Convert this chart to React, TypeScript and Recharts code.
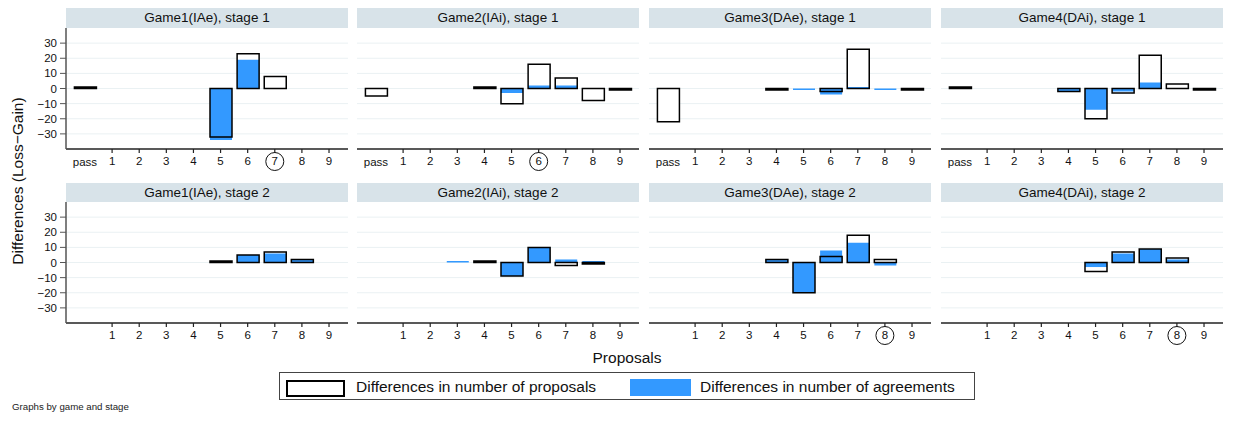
import React from 'react'
import { BarChart, Bar, XAxis, YAxis, CartesianGrid } from 'recharts'

// x positions: "pass" then proposals 1..9
const categories = ['pass', '1', '2', '3', '4', '5', '6', '7', '8', '9']
const positions = [0, 1, 2, 3, 4, 5, 6, 7, 8, 9]
const yTicks = [-30, -20, -10, 0, 10, 20, 30]

const games = ['Game1(IAe)', 'Game2(IAi)', 'Game3(DAe)', 'Game4(DAi)']
const stages = [1, 2]

// differences (loss - gain) in number of proposals
const proposalsStage1 = [
  [1, 0, 0, 0, 0, -32, 23, 8, 0, 0],
  [-5, 0, 0, 0, 1, -10, 16, 7, -8, -1],
  [-22, 0, 0, 0, -1, 0, -2, 26, 0, -1],
  [1, 0, 0, 0, -2, -20, -3, 22, 3, -1],
]
const proposalsStage2 = [
  [0, 0, 0, 0, 0, 1, 5, 7, 2, 0],
  [0, 0, 0, 0, 1, -9, 10, -2, -1, 0],
  [0, 0, 0, 0, 2, -20, 4, 18, 2, 0],
  [0, 0, 0, 0, 0, -6, 7, 9, 3, 0],
]

// differences (loss - gain) in number of agreements
const agreementsStage1 = [
  [0, 0, 0, 0, 0, -34, 19, 0, 0, 0],
  [0, 0, 0, 0, 0, -3, 2, 2, 0, 0],
  [0, 0, 0, 0, 0, -1, -4, 1, -1, 0],
  [0, 0, 0, 0, -2, -14, -2, 4, 0, 0],
]
const agreementsStage2 = [
  [0, 0, 0, 0, 0, 0, 5, 6, 2, 0],
  [0, 0, 0, 1, 0, -9, 10, 2, 1, 0],
  [0, 0, 0, 0, 2, -20, 8, 13, -2, 0],
  [0, 0, 0, 0, 0, -3, 6, 9, 2, 0],
]

// circled proposal label in each panel (-1 = none)
const circledStage1 = [7, 6, -1, -1]
const circledStage2 = [-1, -1, 8, 8]

const FONT = '"Liberation Sans", Arial, Helvetica, sans-serif'
const BLUE = '#3399ff'
const colLeft = [66, 357, 649, 941]
const plotW = 282
const plotH = 121
const axisH = 26
const rowTop = [28, 202]
const headerTop = [8, 183]
const headerH = [20, 19]
const yAxisW = 46

const fmtY = (v: number) => (v < 0 ? '\u2212' + Math.abs(v) : String(v))

const XTick = (props: any) => {
  const { x, y, payload, circle } = props
  const v = payload.value
  const axisY = y - 6
  return (
    <g>
      {v > 0 && <line x1={x} x2={x} y1={axisY} y2={axisY + 4} stroke="#222" strokeWidth={1.2} />}
      <text x={x} y={axisY + 16 + (v === 0 ? 1 : 0)} textAnchor="middle" fontSize={11.5} fill="#111" fontFamily={FONT}>
        {categories[v]}
      </text>
      {circle === v && <circle cx={x} cy={axisY + 12.5} r={9} fill="none" stroke="#111" strokeWidth={1} />}
    </g>
  )
}

function Panel({ g, s }: { g: number; s: number }) {
  const prop = s === 0 ? proposalsStage1[g] : proposalsStage2[g]
  const agr = s === 0 ? agreementsStage1[g] : agreementsStage2[g]
  const circle = s === 0 ? circledStage1[g] : circledStage2[g]
  const data = positions.map((p, i) => ({ pos: p, proposals: prop[i], agreements: agr[i] }))
  const ticks = s === 0 ? positions : positions.slice(1)
  const first = g === 0
  const left = first ? colLeft[g] - yAxisW : colLeft[g]
  const width = first ? plotW + yAxisW : plotW
  const xProps = {
    type: 'number' as const,
    dataKey: 'pos',
    domain: [-0.7, 9.7],
    allowDataOverflow: true,
  }
  return (
    <>
      <div
        style={{
          position: 'absolute',
          left: colLeft[g],
          top: headerTop[s],
          width: plotW,
          height: headerH[s],
          background: '#d8e3e9',
          fontFamily: FONT,
          fontSize: 13.5,
          color: '#111',
          textAlign: 'center',
          lineHeight: headerH[s] + 'px',
        }}
      >
        {games[g]}, stage {stages[s]}
      </div>
      <div style={{ position: 'absolute', left, top: rowTop[s] }}>
        <BarChart width={width} height={plotH + axisH} data={data} margin={{ top: 0, right: 0, bottom: 0, left: 0 }} barSize={22}>
          <CartesianGrid xAxisId="a" horizontalValues={yTicks} vertical={false} stroke="#eaf1f3" strokeWidth={1} />
          <XAxis
            {...xProps}
            xAxisId="a"
            height={axisH}
            ticks={ticks}
            interval={0}
            tickLine={false}
            tickSize={4}
            tickMargin={2}
            axisLine={{ stroke: '#222', strokeWidth: 1.3 }}
            tick={(p: any) => <XTick {...p} circle={circle} />}
          />
          <XAxis {...xProps} xAxisId="b" hide ticks={positions} />
          <XAxis {...xProps} xAxisId="c" hide ticks={positions} />
          <YAxis
            type="number"
            domain={[-40, 40]}
            ticks={yTicks}
            interval={0}
            hide={!first}
            width={yAxisW}
            tickSize={6}
            tickMargin={3}
            tickFormatter={fmtY}
            axisLine={{ stroke: '#555', strokeWidth: 1.5 }}
            tickLine={{ stroke: '#555', strokeWidth: 1 }}
            tick={{ fontSize: 11.5, fill: '#111', fontFamily: FONT }}
          />
          <Bar xAxisId="a" dataKey="proposals" fill="#fff" stroke="none" barSize={22} isAnimationActive={false} />
          <Bar xAxisId="b" dataKey="agreements" fill={BLUE} stroke="none" barSize={22} isAnimationActive={false} />
          <Bar xAxisId="c" dataKey="proposals" fill="none" stroke="#000" strokeWidth={1.5} barSize={22} isAnimationActive={false} />
        </BarChart>
      </div>
    </>
  )
}

export default function App() {
  return (
    <div style={{ position: 'absolute', left: 0, top: 0, width: 1233, height: 423, background: '#fff', fontFamily: FONT }}>
      {[0, 1].map((s) => [0, 1, 2, 3].map((g) => <Panel key={s + '-' + g} g={g} s={s} />))}
      <div
        style={{
          position: 'absolute',
          left: 18,
          top: 181,
          transform: 'translate(-50%, -50%) rotate(-90deg)',
          whiteSpace: 'nowrap',
          fontSize: 15.5,
          color: '#111',
        }}
      >
        Differences (Loss{'\u2212'}Gain)
      </div>
      <div style={{ position: 'absolute', left: 627, top: 358, transform: 'translate(-50%, -50%)', fontSize: 15.5, color: '#111', whiteSpace: 'nowrap' }}>
        Proposals
      </div>
      <div style={{ position: 'absolute', left: 279, top: 372, width: 696, height: 28, border: '1px solid #444', boxSizing: 'border-box' }}>
        <div style={{ position: 'absolute', left: 6, top: 7, width: 59, height: 17, border: '2px solid #000', boxSizing: 'border-box', background: '#fff' }} />
        <div style={{ position: 'absolute', left: 76, top: 0, lineHeight: '28px', fontSize: 15.5, color: '#111', whiteSpace: 'nowrap' }}>
          Differences in number of proposals
        </div>
        <div style={{ position: 'absolute', left: 350, top: 6, width: 61, height: 17, background: BLUE }} />
        <div style={{ position: 'absolute', left: 420, top: 0, lineHeight: '28px', fontSize: 15.5, color: '#111', whiteSpace: 'nowrap' }}>
          Differences in number of agreements
        </div>
      </div>
      <div style={{ position: 'absolute', left: 12, top: 401, fontSize: 9.7, color: '#222', whiteSpace: 'nowrap' }}>
        Graphs by game and stage
      </div>
    </div>
  )
}
